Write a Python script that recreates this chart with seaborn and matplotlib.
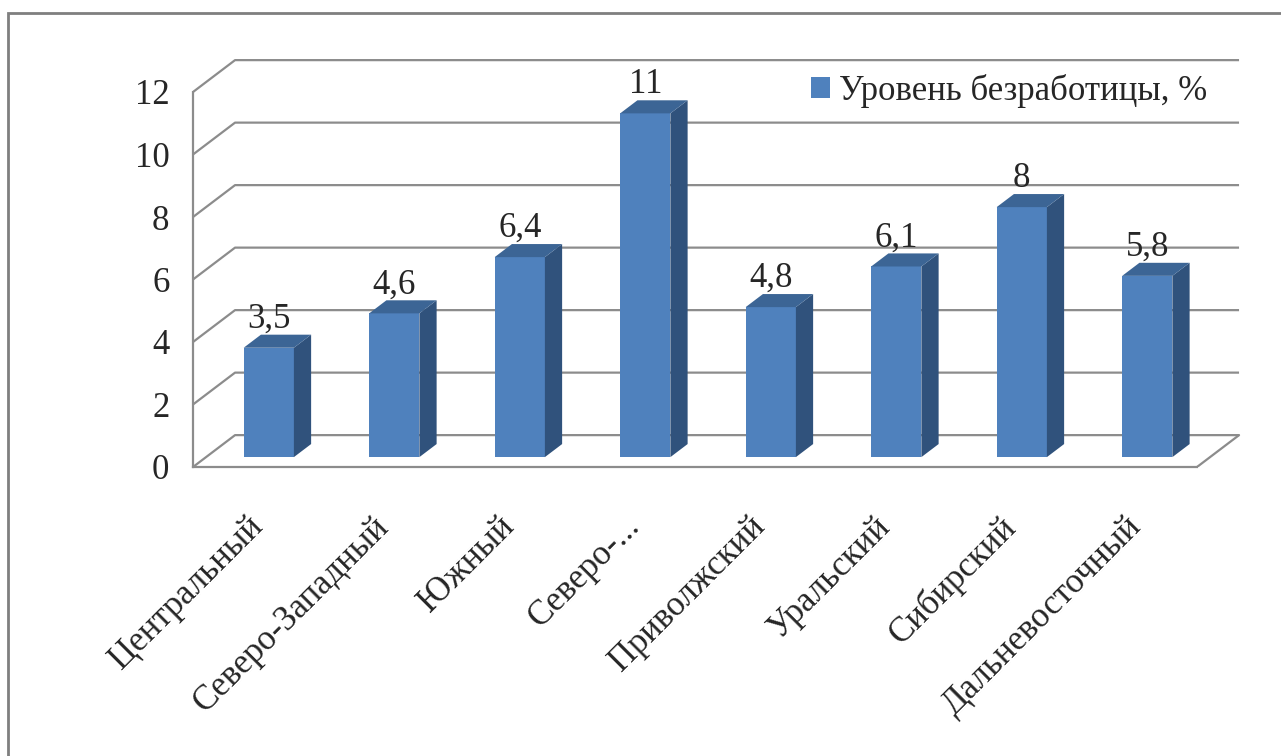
import numpy as np
import matplotlib
matplotlib.use("Agg")
import matplotlib.pyplot as plt
import matplotlib.transforms as mtransforms
import seaborn as sns
import pandas as pd
from matplotlib.patches import Polygon, Rectangle

regions = ["Центральный", "Северо-Западный", "Южный", "Северо-...",
           "Приволжский", "Уральский", "Сибирский", "Дальневосточный"]
unemployment = [3.5, 4.6, 6.4, 11, 4.8, 6.1, 8, 5.8]
series_name = "Уровень безработицы, %"
yticks = [0, 2, 4, 6, 8, 10, 12]

FRONT = "#4F81BD"
SIDE = "#30527C"
TOP = "#3C6595"
GRID = "#8C8C8C"

# oblique "3d" depth of the plot box (data units) and bar slab position in it
DX, DY = 0.335, 1.02
ZF, ZB = 0.31, 0.72

sns.set_style("white")
plt.rcParams["font.family"] = ["Liberation Serif", "DejaVu Serif"]
FS = 25

W, H = 1281, 756
fig = plt.figure(figsize=(W / 100, H / 100), dpi=100)
px_x = 125.5
px_y = 31.25
left, right, y0px, top = 193, 1250, 467, 51
ax = fig.add_axes([left / W, 1 - y0px / H, (right - left) / W, (y0px - top) / H])

df = pd.DataFrame({"region": regions, "value": unemployment})
sns.barplot(data=df, x="region", y="value", order=regions, width=0.4,
            color=FRONT, saturation=1, linewidth=0, label=series_name,
            ax=ax, zorder=3)

ax.set_xlim(-0.5, -0.5 + (right - left) / px_x)
ax.set_ylim(0, (y0px - top) / px_y)

# turn flat bars into boxes
ddx, ddy = (ZB - ZF) * DX, (ZB - ZF) * DY
for p, v in zip(ax.patches, unemployment):
    x0, w, h = p.get_x() + ZF * DX, p.get_width(), p.get_height()
    yb = ZF * DY
    p.set_x(x0)
    p.set_y(yb)
    side = Polygon([(x0 + w, yb), (x0 + w + ddx, yb + ddy),
                    (x0 + w + ddx, yb + h + ddy), (x0 + w, yb + h)],
                   closed=True, facecolor=SIDE, edgecolor="none", zorder=3)
    topf = Polygon([(x0, yb + h), (x0 + w, yb + h),
                    (x0 + w + ddx, yb + h + ddy), (x0 + ddx, yb + h + ddy)],
                   closed=True, facecolor=TOP, edgecolor="none", zorder=3)
    ax.add_patch(side)
    ax.add_patch(topf)
    ax.annotate(f"{v:g}".replace(".", ","), xy=(x0 + w / 2, yb + h + ddy),
                xytext=(0, 5), textcoords="offset points", ha="center",
                va="baseline", fontsize=FS, zorder=4)

# walls and gridlines
xr = len(regions) - 0.5
for v in yticks:
    ax.plot([-0.5, -0.5 + DX, xr + DX], [v, v + DY, v + DY],
            color=GRID, lw=1.6, zorder=1, solid_capstyle="butt")
ax.plot([xr, xr + DX], [0, DY], color=GRID, lw=1.6, zorder=1)

sns.despine(ax=ax, top=True, right=True)
for s in ("left", "bottom"):
    ax.spines[s].set_color(GRID)
    ax.spines[s].set_linewidth(1.6)
ax.spines["left"].set_bounds(0, 12)
ax.spines["bottom"].set_bounds(-0.5, xr)

ax.set_yticks(yticks)
ax.set_yticklabels([str(t) for t in yticks], fontsize=FS)
ax.tick_params(axis="y", length=7, width=1.6, color=GRID, pad=10)
ax.set_xticks(np.arange(-0.5, xr + 0.5, 1), minor=True)
ax.tick_params(axis="x", which="minor", length=7, width=1.6, color=GRID)
ax.tick_params(axis="x", which="major", length=0, pad=31)
ax.set_xticklabels(regions, fontsize=FS, rotation=45, ha="right",
                   rotation_mode="anchor")
shift = mtransforms.ScaledTranslation(-9 / 100, 0, fig.dpi_scale_trans)
for lab in ax.get_xticklabels():
    lab.set_transform(lab.get_transform() + shift)
ax.set_xlabel("")
ax.set_ylabel("")

leg = ax.legend(loc="upper left", bbox_to_anchor=(811 / W, 1 - 74 / H),
                bbox_transform=fig.transFigure, frameon=False, fontsize=FS,
                handlelength=0.55, handleheight=0.55, handletextpad=0.25,
                borderpad=0, borderaxespad=0)

fig.patches.append(Rectangle((8 / W, -0.05), 1.1, 1.05 - 13 / H,
                             transform=fig.transFigure, fill=False,
                             edgecolor="#7F7F7F", lw=2, zorder=0))

fig.savefig("out.png", dpi=100)
